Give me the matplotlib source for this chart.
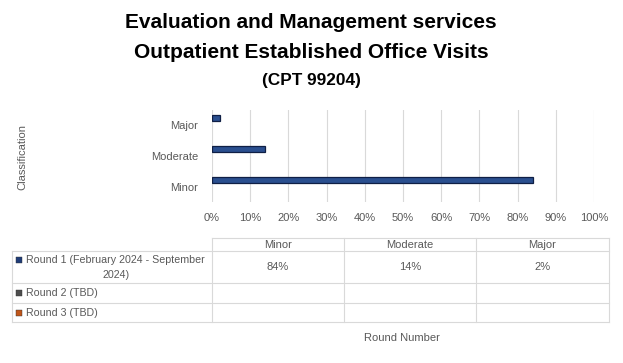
import matplotlib.pyplot as plt
from matplotlib.lines import Line2D
from matplotlib.patches import Rectangle

plt.rcParams['font.family'] = ['Liberation Sans', 'DejaVu Sans']

categories = ['Minor', 'Moderate', 'Major']
round1 = [84, 14, 2]
series_names = ['Round 1 (February 2024 - September\n2024)', 'Round 2 (TBD)', 'Round 3 (TBD)']
series_colors = ['#1F3C78', '#4D4D4D', '#C0561A']
ticks = list(range(0, 101, 10))

W, H = 623, 363
fig = plt.figure(figsize=(W / 100, H / 100), dpi=100)

def fx(px):
    return px / W

def fy(py):
    return 1 - py / H

ax = fig.add_axes([fx(212), fy(202), fx(594) - fx(212), fy(110) - fy(202)])
ypos = [i + 0.23 for i in range(len(categories))]
ax.barh(ypos, round1, height=0.2, color='#2A4F8F', edgecolor='#0F1F45', linewidth=0.9)
ax.set_xlim(0, 100)
ax.set_ylim(-0.5, 2.5)
ax.set_xticks(ticks)
ax.set_xticklabels([f'{t}%' for t in ticks])
ax.set_yticks(range(len(categories)))
ax.set_yticklabels(categories)
ax.tick_params(axis='both', length=0, labelsize=8, colors='#595959')
ax.tick_params(axis='x', pad=8)
ax.tick_params(axis='y', pad=10)
ax.grid(axis='x', color='#D9D9D9', linewidth=0.8)
ax.set_axisbelow(True)
for s in ax.spines.values():
    s.set_visible(False)

fig.text(fx(22), fy(157), 'Classification', rotation=90, ha='center', va='center',
         fontsize=8, color='#595959')

fig.text(fx(311), fy(23), 'Evaluation and Management services', ha='center', va='center',
         fontsize=15, fontweight='bold', color='black')
fig.text(fx(311), fy(53), 'Outpatient Established Office Visits', ha='center', va='center',
         fontsize=15, fontweight='bold', color='black')
fig.text(fx(311), fy(81), '(CPT 99204)', ha='center', va='center',
         fontsize=12.4, fontweight='bold', color='black')

# data table
col_x = [12, 212, 344, 476, 609]
row_y = [238, 251, 283, 303, 322]
lc = '#D9D9D9'
def hline(y, x0, x1):
    fig.add_artist(Line2D([fx(x0), fx(x1)], [fy(y), fy(y)], color=lc, linewidth=0.8))
def vline(x, y0, y1):
    fig.add_artist(Line2D([fx(x), fx(x)], [fy(y0), fy(y1)], color=lc, linewidth=0.8))

hline(row_y[0], col_x[1], col_x[-1])
for y in row_y[1:]:
    hline(y, col_x[0], col_x[-1])
vline(col_x[0], row_y[1], row_y[-1])
for x in col_x[1:]:
    vline(x, row_y[0], row_y[-1])

for i, c in enumerate(categories):
    cx = (col_x[i + 1] + col_x[i + 2]) / 2
    fig.text(fx(cx), fy((row_y[0] + row_y[1]) / 2 + 0.5), c, ha='center', va='center',
             fontsize=8, color='#595959')
    fig.text(fx(cx), fy((row_y[1] + row_y[2]) / 2 + 0.5), f'{round1[i]}%', ha='center', va='center',
             fontsize=8, color='#595959')

for j, name in enumerate(series_names):
    ymid = (row_y[j + 1] + row_y[j + 2]) / 2
    ytop = ymid - 7 if j == 0 else ymid
    fig.add_artist(Rectangle((fx(16), fy(ytop + 3)), fx(6), fy(0) - fy(6),
                             facecolor=series_colors[j], edgecolor='#333333', linewidth=0.3))
    fig.text(fx(26), fy(ytop), name.split('\n')[0], ha='left', va='center',
             fontsize=7.7, color='#595959')
    if '\n' in name:
        fig.text(fx(130), fy(ytop + 15), name.split('\n')[1], ha='right', va='center',
                 fontsize=7.7, color='#595959')

fig.text(fx(402), fy(338), 'Round Number', ha='center', va='center',
         fontsize=8, color='#595959')

fig.savefig('out.png', dpi=100)
